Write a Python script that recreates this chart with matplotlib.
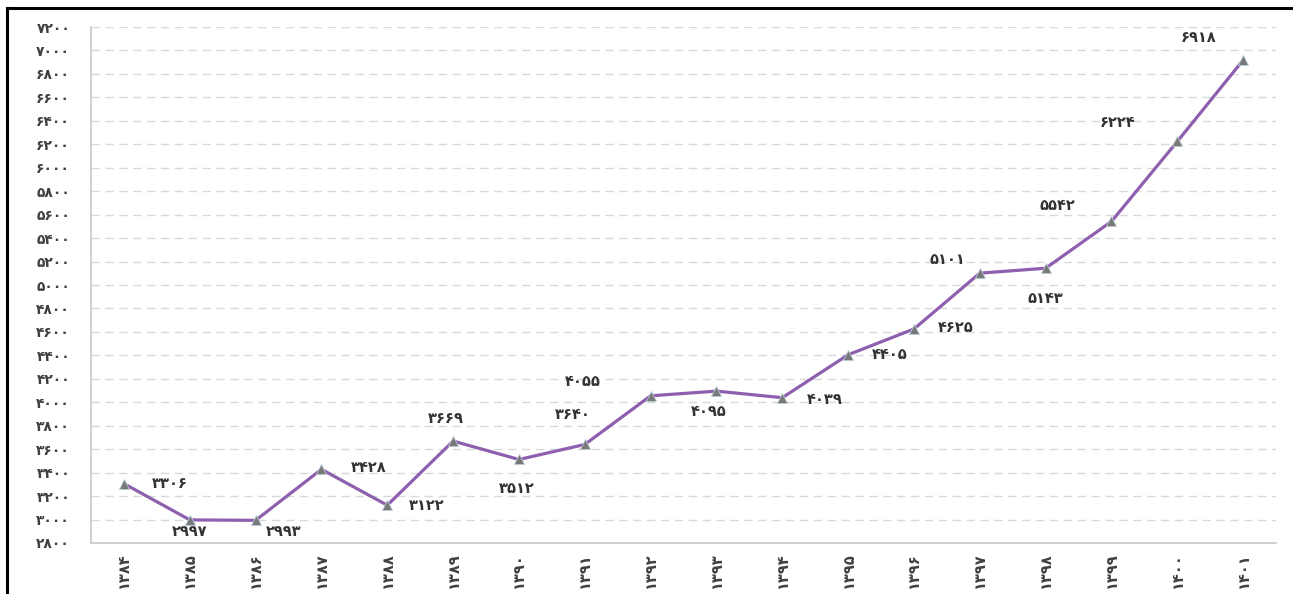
import matplotlib
matplotlib.use("Agg")
import matplotlib.pyplot as plt
from matplotlib.lines import Line2D
from matplotlib.ticker import FuncFormatter, MultipleLocator

# data (Persian years, values)
years = [1384, 1385, 1386, 1387, 1388, 1389, 1390, 1391, 1392,
         1393, 1394, 1395, 1396, 1397, 1398, 1399, 1400, 1401]
values = [3306, 2997, 2993, 3428, 3122, 3669, 3512, 3640, 4055,
          4095, 4039, 4405, 4625, 5101, 5143, 5542, 6224, 6918]

# where each value label sits relative to its point (pixels)
label_offsets = [(46, 0), (0, -12), (28, -11), (47, 2), (39, 0), (-7, 23),
                 (-2, -29), (-12, 30), (-68, 14), (-8, -20), (42, -2), (42, 0),
                 (42, 1), (-32, 14), (0, -30), (-54, 16), (-60, 19), (-45, 23)]

FA_DIGITS = str.maketrans("0123456789", "۰۱۲۳۴۵۶۷۸۹")


def fa(n):
    """Convertit un nombre en chiffres persans."""
    return str(int(n)).translate(FA_DIGITS)


plt.rcParams["font.family"] = ["DejaVu Sans"]

fig = plt.figure(figsize=(12.93, 5.94), dpi=100)
ax = fig.add_axes([0.0704, 0.0859, 0.9165, 0.8686])

xs = list(range(len(years)))
ax.plot(xs, values, color="#8e5fae", linewidth=2.3, marker="^",
        markersize=7, markerfacecolor="#787878", markeredgecolor="#b8ccd6",
        markeredgewidth=0.6, zorder=3)

for x, v, (dx, dy) in zip(xs, values, label_offsets):
    ax.annotate(fa(v), (x, v), xytext=(dx, dy), textcoords="offset pixels",
                ha="center", va="center", fontsize=10.5, color="#333333",
                fontweight="bold")

ax.set_xlim(-0.5, len(years) - 0.5)
ax.set_ylim(2800, 7200)
ax.yaxis.set_major_locator(MultipleLocator(200))
ax.yaxis.set_major_formatter(FuncFormatter(lambda v, p: fa(v)))
ax.set_xticks(xs)
ax.set_xticklabels([fa(y) for y in years], rotation=90, fontweight="bold",
                   fontsize=10.5)

ax.grid(axis="y", color="#d9d9d9", linestyle=(0, (6, 4)), linewidth=1.0)
ax.set_axisbelow(True)
ax.tick_params(axis="both", length=0, labelcolor="#404040")
ax.tick_params(axis="y", pad=15, labelsize=10)
ax.tick_params(axis="x", pad=7)
for lbl in ax.get_yticklabels():
    lbl.set_fontweight("bold")

for s in ("top", "right"):
    ax.spines[s].set_visible(False)
for s in ("left", "bottom"):
    ax.spines[s].set_color("#c8c8c8")
    ax.spines[s].set_linewidth(1.2)

# cadre noir (gauche + haut)
bx = 7 / 1293
by = 1 - 8 / 594
fig.add_artist(Line2D([bx, bx], [0, by], color="black", linewidth=2.2,
                      transform=fig.transFigure))
fig.add_artist(Line2D([bx, 1], [by, by], color="black", linewidth=2.2,
                      transform=fig.transFigure))

fig.savefig("out.png", dpi=100)
